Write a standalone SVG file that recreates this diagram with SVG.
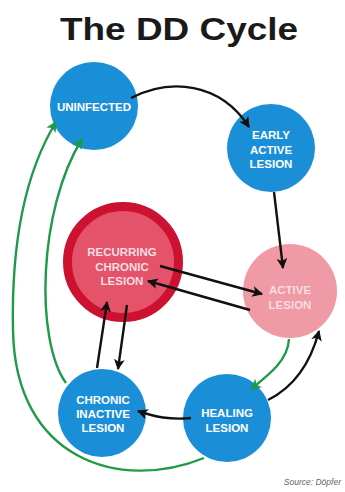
<svg xmlns="http://www.w3.org/2000/svg" width="345" height="492" viewBox="0 0 345 492">
<style>
.blue{fill:#1a8fd8}
.lbl{font-family:"Liberation Sans",Arial,sans-serif;font-weight:bold;font-size:11.5px;fill:#ffffff;text-anchor:middle}
.lblr{font-family:"Liberation Sans",Arial,sans-serif;font-weight:bold;font-size:11.5px;fill:#f8dde1;text-anchor:middle}
.blk{fill:none;stroke:#111111;stroke-width:2.4}
.grn{fill:none;stroke:#1f9a48;stroke-width:2.4}
</style>
<defs>
<marker id="ab" viewBox="0 0 10 10" refX="9" refY="5" markerWidth="4.5" markerHeight="4.5" orient="auto" markerUnits="strokeWidth">
<path d="M0,0 L10,5 L0,10 L2.5,5 z" fill="#111111"/>
</marker>
<marker id="ag" viewBox="0 0 10 10" refX="9" refY="5" markerWidth="4.5" markerHeight="4.5" orient="auto" markerUnits="strokeWidth">
<path d="M0,0 L10,5 L0,10 L2.5,5 z" fill="#1f9a48"/>
</marker>
</defs>
<rect width="345" height="492" fill="#ffffff"/>
<text x="60" y="40" font-family="Liberation Sans,Arial,sans-serif" font-weight="bold" font-size="32" fill="#1a1a1a" textLength="238" lengthAdjust="spacingAndGlyphs">The DD Cycle</text>

<g id="uninfected">
<circle class="blue" cx="94" cy="106" r="44"/>
<text class="lbl" x="94" y="111">UNINFECTED</text>
</g>
<g id="early-active">
<circle class="blue" cx="271" cy="148" r="44"/>
<text class="lbl" x="271" y="139">EARLY</text>
<text class="lbl" x="271" y="154">ACTIVE</text>
<text class="lbl" x="271" y="168">LESION</text>
</g>
<g id="recurring">
<circle cx="123" cy="262" r="55.5" fill="#e4536a" stroke="#cc1230" stroke-width="9"/>
<text class="lblr" x="122" y="256">RECURRING</text>
<text class="lblr" x="122" y="271">CHRONIC</text>
<text class="lblr" x="122" y="285">LESION</text>
</g>
<g id="active">
<circle cx="290" cy="291" r="47" fill="#f09aa6"/>
<text class="lblr" x="290" y="294">ACTIVE</text>
<text class="lblr" x="290" y="309">LESION</text>
</g>
<g id="chronic-inactive">
<circle class="blue" cx="102" cy="413" r="44"/>
<text class="lbl" x="103" y="404">CHRONIC</text>
<text class="lbl" x="103" y="418">INACTIVE</text>
<text class="lbl" x="103" y="432">LESION</text>
</g>
<g id="healing">
<circle class="blue" cx="227" cy="418" r="44"/>
<text class="lbl" x="227" y="417">HEALING</text>
<text class="lbl" x="227" y="432">LESION</text>
</g>

<g id="connectors">
<path class="grn" d="M204,458 C120,492 15,460 13,330 C11,235 28,168 56,122" marker-end="url(#ag)"/>
<path class="grn" d="M66,383 C35,340 38,210 82,139" marker-end="url(#ag)"/>
<path class="blk" d="M131,98 C170,78 220,82 249,127" marker-end="url(#ab)"/>
<path class="blk" d="M274,192 L283,268" marker-end="url(#ab)"/>
<path class="blk" d="M160,266 L262,294" marker-end="url(#ab)"/>
<path class="blk" d="M250,310 L148,281" marker-end="url(#ab)"/>
<path class="grn" d="M289,339 C288,360 270,374 251,389" marker-end="url(#ag)"/>
<path class="blk" d="M268,400 C292,388 310,365 319,331" marker-end="url(#ab)"/>
<path class="blk" d="M191,418 C170,420 155,417 138,411" marker-end="url(#ab)"/>
<path class="blk" d="M97,368 L107,302" marker-end="url(#ab)"/>
<path class="blk" d="M127,305 L118,369" marker-end="url(#ab)"/>
</g>

<text x="341" y="485" font-family="Liberation Sans,Arial,sans-serif" font-style="italic" font-size="8.5" fill="#666666" text-anchor="end">Source: Döpfer</text>
</svg>
